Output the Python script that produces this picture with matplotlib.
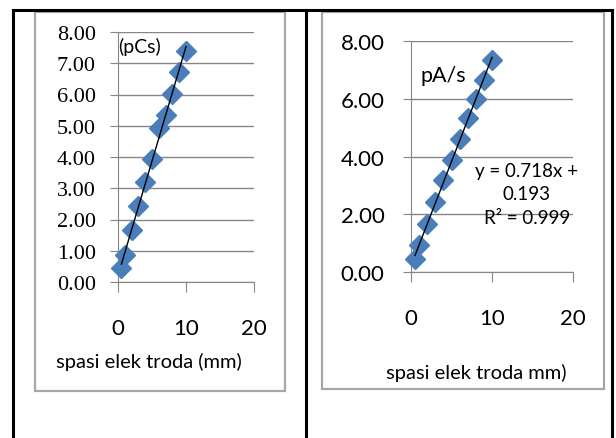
import numpy as np
import matplotlib
matplotlib.use("Agg")
import matplotlib.pyplot as plt
from matplotlib.patches import Rectangle
from matplotlib.lines import Line2D

# data
x_left = [0.5, 1, 2, 3, 4, 5, 6, 7, 8, 9, 10]
y_left = [0.45, 0.87, 1.65, 2.42, 3.20, 3.93, 4.93, 5.33, 6.03, 6.72, 7.39]
x_right = [0.5, 1, 2, 3, 4, 5, 6, 7, 8, 9, 10]
y_right = [0.44, 0.92, 1.67, 2.42, 3.17, 3.89, 4.60, 5.32, 6.00, 6.65, 7.34]
yticks_left = [0, 1, 2, 3, 4, 5, 6, 7, 8]
yticks_right = [0, 2, 4, 6, 8]
xticks = [0, 10, 20]
xlabel_left = "spasi elek troda (mm)"
xlabel_right = "spasi elek troda mm)"
unit_left = "(pCs)"
unit_right = "pA/s"
eq_text = "y = 0.718x +\n0.193\nR\u00b2 = 0.999"

W, H = 616, 439
blue = "#4A7EBB"
gray = "#868686"
sans = "Lato"

fig = plt.figure(figsize=(W / 100, H / 100), dpi=100)


def fx(px):
    return px / W


def fy(py):
    return 1 - py / H


# table lines
for xs, ys in [((13, 13), (11, 439)), ((306, 306), (11, 439)), ((612, 612), (11, 439)), ((13, 612), (11, 11))]:
    fig.add_artist(Line2D([fx(xs[0]), fx(xs[1])], [fy(ys[0]), fy(ys[1])], color="black", lw=2.2))

# chart area boxes
fig.add_artist(Rectangle((fx(35), fy(392)), fx(285 - 35), (392 - 13) / H, fill=False, ec="#a6a6a6", lw=1.6))
fig.add_artist(Rectangle((fx(322), fy(390)), fx(604 - 322), (390 - 13) / H, fill=False, ec="#a6a6a6", lw=1.6))


def make_panel(box, xs, ys, yticks, yfont, ypad):
    left, top, right, bottom = box
    ax = fig.add_axes([fx(left), fy(bottom), fx(right - left), (bottom - top) / H])
    ax.set_xlim(0, 20)
    ax.set_ylim(0, 8)
    ax.set_xticks(xticks, [str(v) for v in xticks], family=sans, fontsize=16)
    ax.set_yticks(yticks, [f"{v:.2f}" for v in yticks], **yfont)
    ax.grid(axis="y", color=gray, lw=1)
    ax.set_axisbelow(True)
    for s in ["top", "right"]:
        ax.spines[s].set_visible(False)
    for s in ["left", "bottom"]:
        ax.spines[s].set_color(gray)
    ax.tick_params(axis="x", length=7, color=gray, pad=19)
    ax.tick_params(axis="y", length=6, color=gray, pad=ypad)
    ax.plot(xs, ys, "D", color=blue, ms=10.5, clip_on=False, zorder=3)
    # linear trendline
    k, b = np.polyfit(xs, ys, 1)
    xx = np.array([min(xs), max(xs)])
    ax.plot(xx, k * xx + b, color="black", lw=1, zorder=4)
    return ax


axl = make_panel((118, 33, 254, 283), x_left, y_left, yticks_left,
                 dict(family="Liberation Serif", fontsize=16), 10)
axl.text(0.0, 0.944, unit_left, transform=axl.transAxes, family=sans, fontsize=14,
         va="center", ha="left")
fig.text(fx(149), fy(362), xlabel_left, family=sans, fontsize=14.5, ha="center", va="center")

axr = make_panel((411, 42, 573, 273), x_right, y_right, yticks_right,
                 dict(family=sans, fontsize=16), 13)
axr.text(0.056, 0.853, unit_right, transform=axr.transAxes, family=sans, fontsize=15.5,
         va="center", ha="left")
axr.text(0.716, 0.338, eq_text, transform=axr.transAxes, family=sans, fontsize=13.5,
         va="center", ha="center", linespacing=1.45)
fig.text(fx(476), fy(373), xlabel_right, family=sans, fontsize=14.5, ha="center", va="center")

fig.savefig("out.png", dpi=100)
